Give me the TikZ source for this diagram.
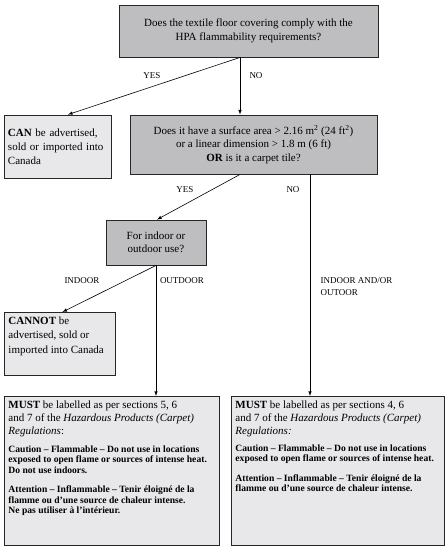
\documentclass[tikz,border=0pt]{standalone}
\usepackage{fontspec}
\setmainfont{Liberation Serif}
\usetikzlibrary{arrows, positioning, calc}

\definecolor{qgrey}{HTML}{BEBEC1}
\definecolor{agrey}{HTML}{E8E8EA}

\tikzset{
    qbox/.style={draw=black!85, line width=0.9pt, fill=qgrey, align=center,
        font=\fontsize{11}{13.5}\selectfont, inner sep=0pt},
    abox/.style={draw=black!85, line width=0.9pt, fill=agrey, align=left,
        font=\fontsize{11}{14}\selectfont, inner sep=4pt},
    lbl/.style={font=\fontsize{9}{12}\selectfont},
    flow/.style={-latex, line width=0.6pt},
}

\newcommand{\warnfont}{\fontsize{9.6}{10.4}\selectfont\bfseries}

\begin{document}
\begin{tikzpicture}[x=1pt, y=-1pt]
    \useasboundingbox (0,0) rectangle (448,550);

    % Questions
    \node[qbox, minimum width=259pt, minimum height=52pt] (hpa) at (248.5,31)
        {Does the textile floor covering comply with the\\HPA flammability requirements?};
    \node[qbox, minimum width=247pt, minimum height=59pt] (size) at (253.5,144.5)
        {Does it have a surface area > 2.16 m\textsuperscript{2} (24 ft\textsuperscript{2})\\
         or a linear dimension > 1.8 m (6 ft)\\ \textbf{OR} is it a carpet tile?};
    \node[qbox, minimum width=100pt, minimum height=45pt] (use) at (156,242.5)
        {For indoor or\\outdoor use?};

    % Answers
    \node[abox, minimum width=107pt, minimum height=63pt, text width=99pt] (can) at (57.5,146.5)
        {\textbf{CAN} be advertised,\\sold or imported into\\Canada};
    \node[abox, anchor=north west] (cannot) at (4,312) {%
        \begin{minipage}[t][55pt][t]{103pt}
        \fontsize{11}{14.5}\selectfont
        \textbf{CANNOT} be\\advertised, sold or\\imported into Canada
        \end{minipage}};

    \node[abox, anchor=north west] (mustL) at (4,396) {%
        \begin{minipage}[t][141pt][t]{207pt}
        \fontsize{11}{13}\selectfont
        \textbf{MUST} be labelled as per sections 5, 6\\
        and 7 of the \textit{Hazardous Products (Carpet)}\\
        \textit{Regulations}:\par
        \vspace{8pt}
        {\warnfont Caution -- Flammable -- Do not use in locations\\
        exposed to open flame or sources of intense heat.\\
        Do not use indoors.\par}
        \vspace{9pt}
        {\warnfont Attention -- Inflammable -- Tenir éloigné de la\\
        flamme ou d'une source de chaleur intense.\\
        Ne pas utiliser à l'intérieur.\par}
        \end{minipage}};
    \node[abox, anchor=north west] (mustR) at (231,396) {%
        \begin{minipage}[t][141pt][t]{205pt}
        \fontsize{11}{13}\selectfont
        \textbf{MUST} be labelled as per sections 4, 6\\
        and 7 of the \textit{Hazardous Products (Carpet)}\\
        \textit{Regulations:}\par
        \vspace{7pt}
        {\warnfont Caution -- Flammable -- Do not use in locations\\
        exposed to open flame or sources of intense heat.\par}
        \vspace{9pt}
        {\warnfont Attention -- Inflammable -- Tenir éloigné de la\\
        flamme ou d'une source de chaleur intense.\par}
        \end{minipage}};

    % Connectors
    \draw[flow] ([xshift=-8.5pt]hpa.south) -- ([xshift=10.5pt]can.north);
    \draw[flow] ([xshift=-8.5pt]hpa.south) -- ([xshift=-13.5pt]size.north);
    \draw[flow] ([xshift=-13.5pt]size.south) -- ([xshift=1pt]use.north);
    \draw[flow] ([xshift=56.5pt]size.south) -- ([xshift=56.5pt]size.south |- mustR.north);
    \draw[flow] (use.south) -- ([xshift=2.5pt]cannot.north);
    \draw[flow] (use.south) -- (use.south |- mustL.north);

    % Labels
    \node[lbl] (yes1) at (152,76) {YES};
    \node[lbl] (no1) at (256,76) {NO};
    \node[lbl] (yes2) at (185,190) {YES};
    \node[lbl] (no2) at (293,190) {NO};
    \node[lbl] (indoor) at (82,281) {INDOOR};
    \node[lbl] (outdoor) at (182,281) {OUTDOOR};
    \node[lbl, align=left, anchor=west] (both) at (317,287) {INDOOR AND/OR\\OUTOOR};
\end{tikzpicture}
\end{document}
